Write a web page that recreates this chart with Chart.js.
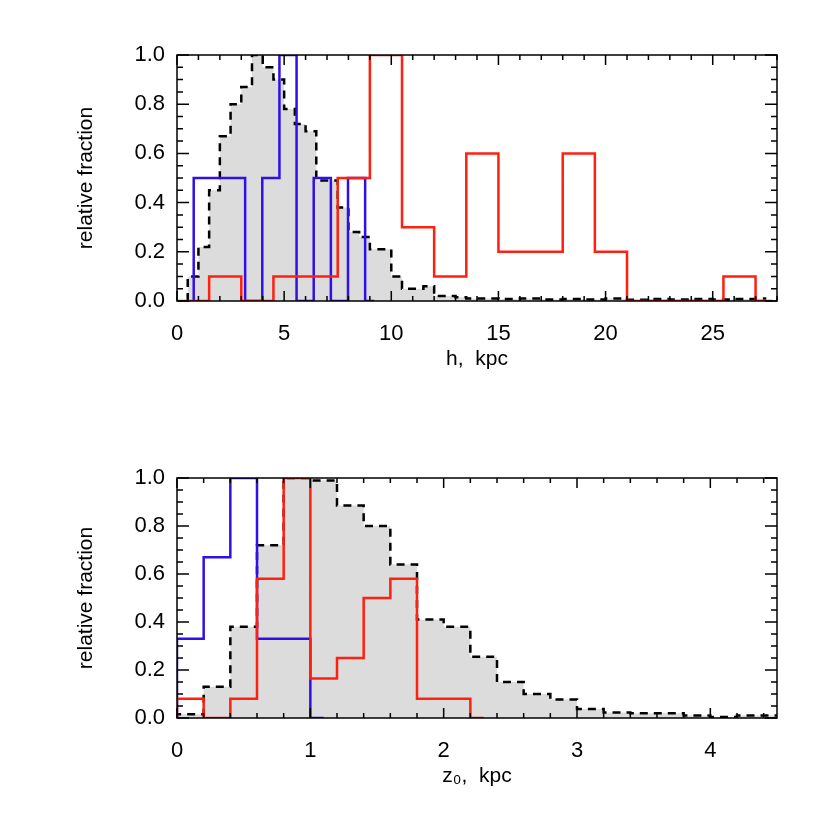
<!DOCTYPE html>
<html>
<head>
<meta charset="utf-8">
<script src="https://cdn.jsdelivr.net/npm/chart.js@4"></script>
<style>
  body { margin: 0; background: #fff; }
  .panel { position: absolute; left: 0; width: 830px; height: 415px; }
</style>
</head>
<body>
<div class="panel" style="top:0"><canvas id="top"></canvas></div>
<div class="panel" style="top:415px"><canvas id="bottom"></canvas></div>
<script>
// --- top panel: h, kpc ---
const hAllEdges = [0.5,1,1.5,2,2.5,3,3.5,4,4.5,5,5.5,6,6.5,7,7.5,8,8.5,9,9.5,10,10.5,11,11.5,12,12.5,13,13.5,14,15,16,17,18,19,20,21,22,23,24,25,26,27,27.5];
const hAllVals  = [0.1,0.22,0.45,0.67,0.8,0.87,1.0,0.95,0.9,0.78,0.72,0.69,0.49,0.49,0.38,0.28,0.26,0.21,0.21,0.1,0.05,0.05,0.06,0.02,0.02,0.015,0.01,0.01,0.008,0.01,0.006,0.008,0.006,0.01,0.005,0.008,0.006,0.008,0.006,0.008,0.01];
const hBlueEdges = [0.78,3.18,3.98,4.78,5.58,6.38,7.18,7.98,8.78,9.2];
const hBlueVals  = [0.5,0,0.5,1.0,0,0.5,0,0.5,0];
const hRedEdges = [0,1.5,3,4.5,6,7.5,9,10.5,12,13.5,15,16.5,18,19.5,21,22.5,24,25.5,27,27.8];
const hRedVals  = [0,0.1,0,0.1,0.1,0.5,1.0,0.3,0.1,0.6,0.2,0.2,0.6,0.2,0,0,0,0.1,0];

// --- bottom panel: z0, kpc ---
const zAllEdges = [0,0.2,0.4,0.6,0.8,1.0,1.2,1.4,1.6,1.8,2.0,2.2,2.4,2.6,2.8,3.0,3.2,3.4,3.6,3.8,4.0,4.2,4.4,4.5];
const zAllVals  = [0.016,0.13,0.38,0.72,1.0,0.99,0.885,0.8,0.64,0.41,0.38,0.255,0.15,0.1,0.077,0.037,0.023,0.02,0.02,0.01,0.004,0.01,0.01];
const zBlueEdges = [0,0.2,0.4,0.6,0.8,1.0,1.1];
const zBlueVals  = [0.33,0.67,1.0,0.33,0.33,0];
const zRedEdges = [0,0.2,0.4,0.6,0.8,1.0,1.2,1.4,1.6,1.8,2.0,2.2,2.3];
const zRedVals  = [0.08,0,0.08,0.58,1.0,0.165,0.25,0.5,0.58,0.08,0.08,0];

const yTicks = [0,0.2,0.4,0.6,0.8,1.0];
const FONT = "'Liberation Sans', sans-serif";

// histogram outline: start on the baseline, then flat top over each bin
function steps(edges, vals) {
  const pts = [{ x: edges[0], y: 0 }];
  vals.forEach((v, i) => {
    pts.push({ x: edges[i], y: v });
    pts.push({ x: edges[i + 1], y: v });
  });
  return pts;
}

// IDL-style inward ticks on all four sides
const idlTicks = {
  id: "idlTicks",
  afterDraw(chart, args, opts) {
    const { ctx, chartArea: a, scales } = chart;
    const x = scales.x, y = scales.y;
    ctx.save();
    ctx.strokeStyle = "#000";
    ctx.lineWidth = 1.5;
    ctx.strokeRect(a.left, a.top, a.right - a.left, a.bottom - a.top);
    for (let v = x.min; v <= x.max + 1e-9; v += opts.xMinor) {
      const px = x.getPixelForValue(v);
      const major = Math.abs(v / opts.xMajor - Math.round(v / opts.xMajor)) < 1e-6;
      const L = major ? 10 : 5;
      ctx.beginPath();
      ctx.moveTo(px, a.bottom); ctx.lineTo(px, a.bottom - L);
      ctx.moveTo(px, a.top); ctx.lineTo(px, a.top + L);
      ctx.stroke();
    }
    for (let v = 0; v <= 1.0001; v += 0.05) {
      const py = y.getPixelForValue(v);
      const major = Math.abs(v / 0.2 - Math.round(v / 0.2)) < 1e-6;
      const L = major ? 12 : 6;
      ctx.beginPath();
      ctx.moveTo(a.left, py); ctx.lineTo(a.left + L, py);
      ctx.moveTo(a.right, py); ctx.lineTo(a.right - L, py);
      ctx.stroke();
    }
    ctx.restore();
  }
};

function makePanel(id, all, blue, red, xMax, xStep, xMinor, xTitle, padTop, padBottom) {
  new Chart(document.getElementById(id), {
    type: "line",
    data: {
      datasets: [
        { data: red, borderColor: "#ff2010", borderWidth: 2.5, pointRadius: 0, fill: false, order: 1 },
        { data: blue, borderColor: "#3010e8", borderWidth: 2.5, pointRadius: 0, fill: false, order: 2 },
        { data: all, borderColor: "#000", borderWidth: 2.5, borderDash: [8, 6], pointRadius: 0,
          fill: "origin", backgroundColor: "#dcdcdc", order: 3 }
      ]
    },
    options: {
      responsive: true,
      maintainAspectRatio: false,
      animation: false,
      layout: { padding: { top: padTop, right: 53, left: 72, bottom: padBottom } },
      plugins: { legend: { display: false }, tooltip: { enabled: false },
        idlTicks: { xMajor: xStep, xMinor: xMinor } },
      scales: {
        x: {
          type: "linear", min: 0, max: xMax,
          ticks: { stepSize: xStep, color: "#000", font: { family: FONT, size: 22 }, padding: 12,
            callback: v => (Math.abs(v / xStep - Math.round(v / xStep)) < 1e-6 ? v : "") },
          grid: { display: false },
          border: { display: false },
          title: { display: true, text: xTitle, color: "#000", font: { family: FONT, size: 21 }, padding: { top: 2 } },
          afterFit(s) { s.height = 75; }
        },
        y: {
          min: 0, max: 1,
          afterBuildTicks(s) { s.ticks = yTicks.map(v => ({ value: v })); },
          ticks: { color: "#000", font: { family: FONT, size: 22 }, padding: 4, callback: v => v.toFixed(1) },
          grid: { display: false },
          border: { display: false },
          title: { display: true, text: "relative fraction", color: "#000", font: { family: FONT, size: 21 }, padding: 2 },
          afterFit(s) { s.width = 105; }
        }
      }
    },
    plugins: [idlTicks]
  });
}

makePanel("top", steps(hAllEdges, hAllVals), steps(hBlueEdges, hBlueVals), steps(hRedEdges, hRedVals),
  28, 5, 1, "h,  kpc", 55, 39);
makePanel("bottom", steps(zAllEdges, zAllVals), steps(zBlueEdges, zBlueVals), steps(zRedEdges, zRedVals),
  4.5, 1, 0.2, "z\u2080,  kpc", 63, 37);
</script>
</body>
</html>
